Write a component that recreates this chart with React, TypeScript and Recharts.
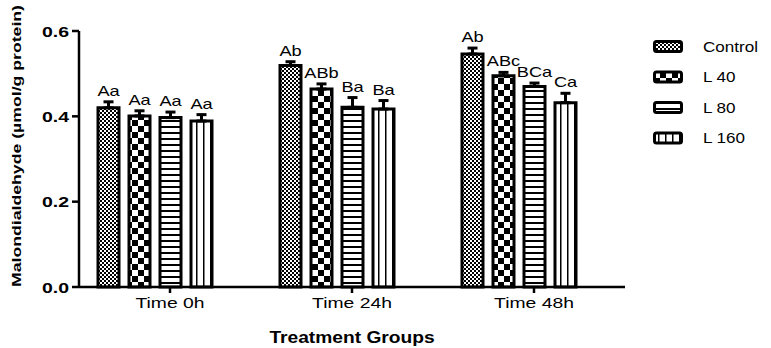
import React from "react";
import { BarChart, Bar, XAxis, YAxis, ErrorBar, LabelList } from "recharts";

const categories = ["Time 0h", "Time 24h", "Time 48h"];
const control = [0.42, 0.519, 0.546];
const l40 = [0.401, 0.464, 0.495];
const l80 = [0.397, 0.421, 0.47];
const l160 = [0.389, 0.417, 0.432];
const controlErr = [0.014, 0.009, 0.014];
const l40Err = [0.012, 0.012, 0.008];
const l80Err = [0.013, 0.023, 0.008];
const l160Err = [0.015, 0.02, 0.022];
const controlLetters = ["Aa", "Ab", "Ab"];
const l40Letters = ["Aa", "ABb", "ABc"];
const l80Letters = ["Aa", "Ba", "BCa"];
const l160Letters = ["Aa", "Ba", "Ca"];
const yTicks = [0, 0.2, 0.4, 0.6];

const series = [
  { key: "control", name: "Control", values: control, errs: controlErr, letters: controlLetters, fill: "url(#pControl)" },
  { key: "l40", name: "L 40", values: l40, errs: l40Err, letters: l40Letters, fill: "url(#pL40)" },
  { key: "l80", name: "L 80", values: l80, errs: l80Err, letters: l80Letters, fill: "url(#pL80)" },
  { key: "l160", name: "L 160", values: l160, errs: l160Err, letters: l160Letters, fill: "url(#pL160)" },
];

const data = categories.map((name, i) => {
  const row: Record<string, any> = { name };
  series.forEach((s) => {
    row[s.key] = s.values[i];
    row[s.key + "Err"] = [0, s.errs[i]];
  });
  return row;
});

const FONT = "'Liberation Sans', Arial, sans-serif";

// the source image is stretched sideways, so text gets a horizontal scale
function SText({ x, y, sx = 1.3, anchor = "middle", size = 14, bold = false, children }: any) {
  return (
    <text
      transform={`translate(${x},${y}) scale(${sx},1)`}
      textAnchor={anchor}
      fontFamily={FONT}
      fontSize={size}
      fontWeight={bold ? "bold" : "normal"}
      fill="#000"
    >
      {children}
    </text>
  );
}

function Patterns() {
  return (
    <svg width={0} height={0} style={{ position: "absolute" }}>
      <defs>
        <pattern id="pControl" width={4} height={4} patternUnits="userSpaceOnUse">
          <rect width={4} height={4} fill="#fff" />
          <rect x={0} y={0} width={2} height={2} fill="#000" />
          <rect x={2} y={2} width={2} height={2} fill="#000" />
        </pattern>
        <pattern id="pL40" width={12} height={12} patternUnits="userSpaceOnUse">
          <rect width={12} height={12} fill="#fff" />
          <rect x={0} y={0} width={6} height={6} fill="#000" />
          <rect x={6} y={6} width={6} height={6} fill="#000" />
        </pattern>
        <pattern id="pL80" width={6} height={6} patternUnits="userSpaceOnUse">
          <rect width={6} height={6} fill="#fff" />
          <rect x={0} y={0} width={6} height={2} fill="#000" />
        </pattern>
        <pattern id="pL160" width={7} height={7} patternUnits="userSpaceOnUse">
          <rect width={7} height={7} fill="#fff" />
          <rect x={0} y={0} width={1.5} height={7} fill="#000" />
        </pattern>
      </defs>
    </svg>
  );
}

function makeLabel(values: number[], errs: number[], letters: string[]) {
  return (props: any) => {
    const { x, y, width, height, index } = props;
    const errPx = (height * errs[index]) / values[index];
    return (
      <SText x={x + width / 2} y={y - errPx - 6} sx={1.3} size={14}>
        {letters[index]}
      </SText>
    );
  };
}

const XTick = (props: any) => (
  <SText x={props.x} y={props.y + 13} sx={1.38} size={14}>
    {props.payload.value}
  </SText>
);

const YTick = (props: any) => (
  <SText x={props.x} y={props.y + 5.5} sx={1.3} size={15} bold anchor="end">
    {Number(props.payload.value).toFixed(1)}
  </SText>
);

export default function App() {
  return (
    <div style={{ position: "absolute", left: 0, top: 0, width: 771, height: 348, background: "#fff" }}>
      <Patterns />
      <BarChart
        width={771}
        height={348}
        data={data}
        margin={{ top: 31, right: 146, left: 0, bottom: 0 }}
        barSize={21}
        barGap={10}
      >
        <XAxis
          dataKey="name"
          height={61}
          stroke="#000"
          strokeWidth={2.5}
          tickSize={6}
          tickMargin={2}
          tick={XTick}
        />
        <YAxis
          domain={[0, 0.6]}
          ticks={yTicks}
          width={79}
          stroke="#000"
          strokeWidth={2.5}
          tickSize={7}
          tickMargin={3}
          tick={YTick}
        />
        {series.map((s) => (
          <Bar
            key={s.key}
            dataKey={s.key}
            name={s.name}
            fill={s.fill}
            stroke="#000"
            strokeWidth={3}
            isAnimationActive={false}
          >
            <ErrorBar dataKey={s.key + "Err"} width={5} stroke="#000" strokeWidth={3} direction="y" />
            <LabelList dataKey={s.key} content={makeLabel(s.values, s.errs, s.letters)} />
          </Bar>
        ))}
        <Bar dataKey="spacer" fill="none" stroke="none" isAnimationActive={false} />
      </BarChart>
      <svg width={771} height={348} style={{ position: "absolute", left: 0, top: 0, pointerEvents: "none" }}>
        <text
          transform="translate(21,146) rotate(-90)"
          textAnchor="middle"
          fontFamily={FONT}
          fontSize={13.5}
          fontWeight="bold"
          textLength={282}
          lengthAdjust="spacingAndGlyphs"
          fill="#000"
        >
          Malondialdehyde (µmol/g protein)
        </text>
        <SText x={352} y={343} sx={1.2} size={16} bold>
          Treatment Groups
        </SText>
        {series.map((s, i) => {
          const cy = 46.5 + i * 30.5;
          return (
            <g key={s.key}>
              <rect x={654.5} y={cy - 5} width={27} height={10} rx={2} fill={s.fill} stroke="#000" strokeWidth={3} />
              <SText x={703} y={cy + 5} sx={1.22} size={14} anchor="start">
                {s.name}
              </SText>
            </g>
          );
        })}
      </svg>
    </div>
  );
}
